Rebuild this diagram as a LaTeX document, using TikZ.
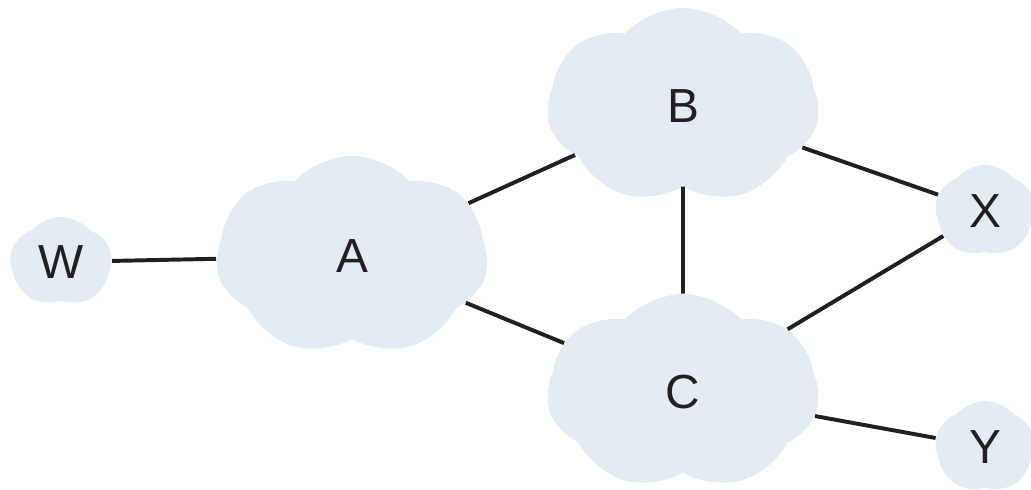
\documentclass[tikz,border=0pt]{standalone}
\usepackage{fontspec}
\setmainfont{Liberation Sans}
\usetikzlibrary{shapes.symbols}
\definecolor{cloudfill}{RGB}{227,236,242}
\definecolor{ink}{RGB}{35,31,32}

\begin{document}
\begin{tikzpicture}[x=0.025cm,y=-0.025cm]
      \tikzset{
        net/.style={cloud,cloud puffs=7,cloud puff arc=95,cloud ignores aspect,fill=cloudfill,
          inner sep=0pt,text=ink,font=\fontsize{34}{40}\selectfont},
        small/.style={net,cloud puffs=5,cloud puff arc=100},
        link/.style={ink,line width=2.8pt}
      }
      \useasboundingbox (0,0) rectangle (1031,490);

      % Networks
      \node[small,minimum width=2.55cm,minimum height=2.25cm] (W) at (61,262) {W};
      \node[net,minimum width=6.8cm,minimum height=5cm] (A) at (352,256) {A};
      \node[net,minimum width=6.8cm,minimum height=4.9cm] (B) at (683,106) {B};
      \node[net,minimum width=6.8cm,minimum height=4.9cm] (C) at (683,392) {C};
      \node[small,minimum width=2.5cm,minimum height=2.3cm] (X) at (985,211) {X};
      \node[small,minimum width=2.5cm,minimum height=2.3cm] (Y) at (985,447) {Y};

      % Links
      \draw[link] (W) -- (A);
      \draw[link] (A) -- (B);
      \draw[link] (A) -- (C);
      \draw[link] (B) -- (C);
      \draw[link] (B) -- (X);
      \draw[link] (C) -- (X);
      \draw[link] (C) -- (Y);
\end{tikzpicture}
\end{document}
